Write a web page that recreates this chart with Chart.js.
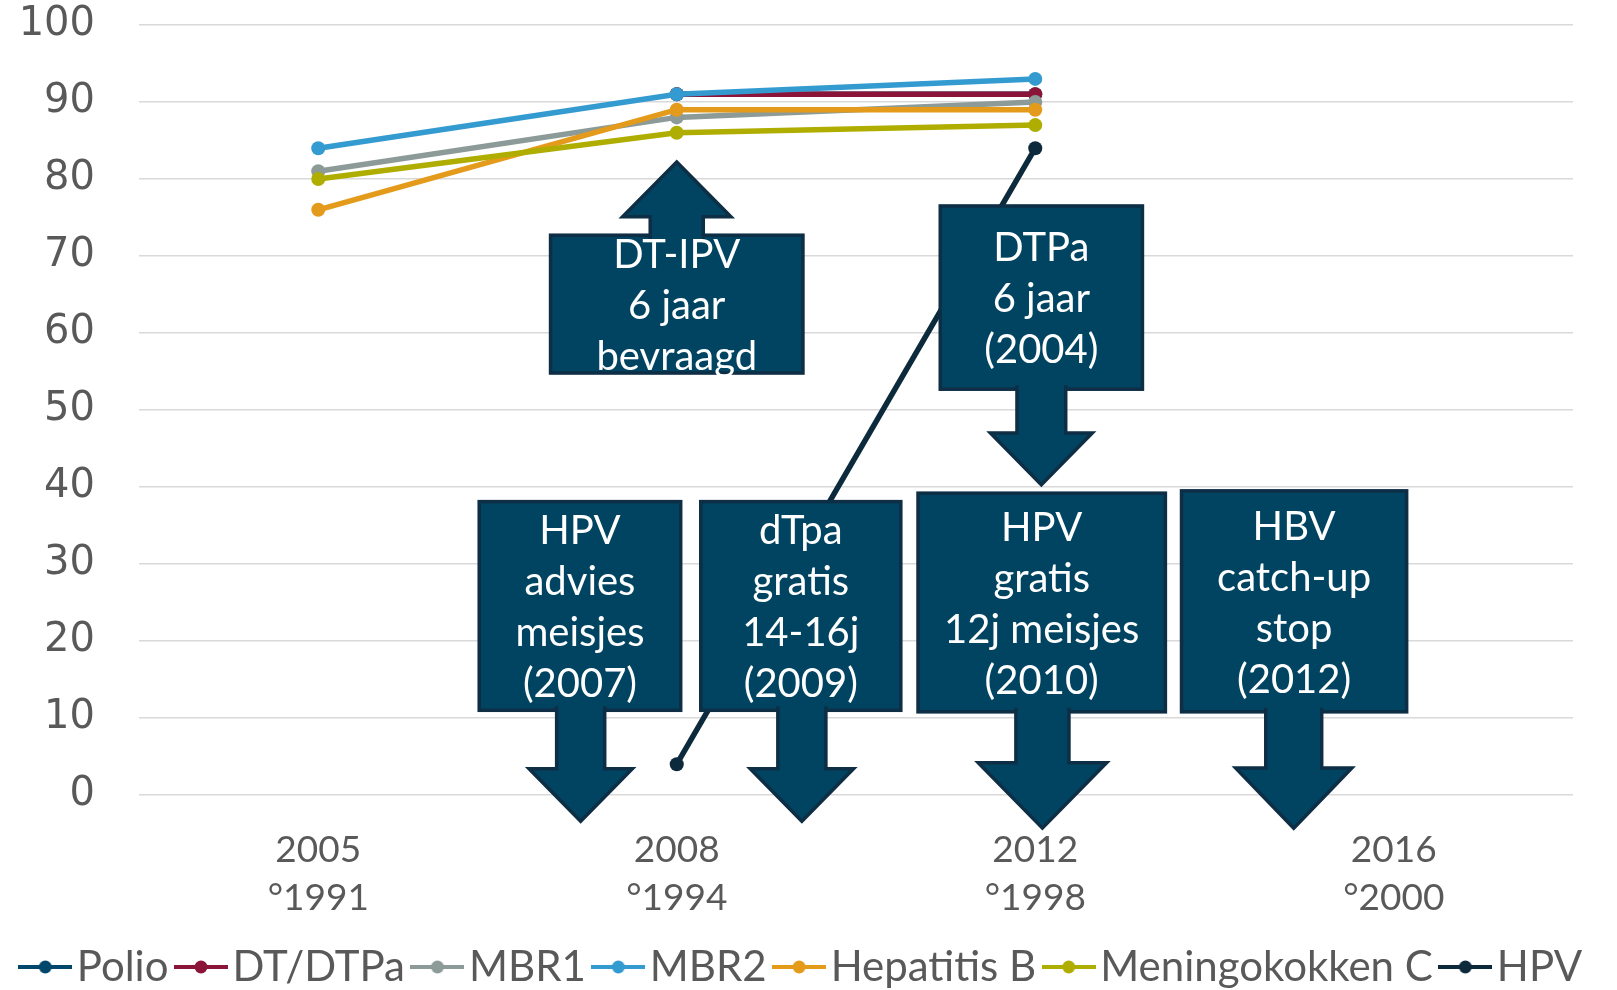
<!DOCTYPE html>
<html>
<head>
<meta charset="utf-8">
<script src="https://cdn.jsdelivr.net/npm/chart.js@4.4.0/dist/chart.umd.min.js"></script>
<style>
  body { margin: 0; background: #fff; }
</style>
</head>
<body>
<canvas id="vaccChart" width="1617" height="990"></canvas>
<script>
// categories: year of survey + birth cohort
const years = [['2005', '°1991'], ['2008', '°1994'], ['2012', '°1998'], ['2016', '°2000']];

// coverage (%)
const polio  = [null, 91, 91, null];
const dtDtpa = [null, 91, 91, null];
const mbr1   = [81, 88, 90, null];
const mbr2   = [84, 91, 93, null];
const hepB   = [76, 89, 89, null];
const menC   = [80, 86, 87, null];
const hpv    = [null, 4, 84, null];

const seriesNames = ['Polio', 'DT/DTPa', 'MBR1', 'MBR2', 'Hepatitis B', 'Meningokokken C', 'HPV'];
const seriesColors = ['#00476b', '#8a1538', '#8c9a98', '#349bd1', '#e49b1b', '#afae00', '#0c2a3c'];

// annotation arrows (x in category units, y in % units)
const notes = [
  { text: ['DT-IPV', '6 jaar', 'bevraagd'], x: 1.0, half: 0.352, top: 72.7, bottom: 54.8,
    dir: 'up', ax: 1.0, shaft: 0.074, head: 0.151, base: 75.1, tip: 82.2 },
  { text: ['DTPa', '6 jaar', '(2004)'], x: 2.017, half: 0.282, top: 76.5, bottom: 52.7,
    dir: 'down', ax: 2.017, shaft: 0.068, head: 0.142, base: 47.0, tip: 40.3 },
  { text: ['HPV', 'advies', 'meisjes', '(2007)'], x: 0.730, half: 0.281, top: 38.1, bottom: 11.0,
    dir: 'down', ax: 0.732, shaft: 0.067, head: 0.144, base: 3.4, tip: -3.4 },
  { text: ['dTpa', 'gratis', '14-16j', '(2009)'], x: 1.346, half: 0.279, top: 38.1, bottom: 11.0,
    dir: 'down', ax: 1.349, shaft: 0.067, head: 0.144, base: 3.4, tip: -3.4 },
  { text: ['HPV', 'gratis', '12j meisjes', '(2010)'], x: 2.018, half: 0.345, top: 39.2, bottom: 10.8,
    dir: 'down', ax: 2.02, shaft: 0.074, head: 0.179, base: 4.2, tip: -4.3 },
  { text: ['HBV', 'catch-up', 'stop', '(2012)'], x: 2.722, half: 0.314, top: 39.5, bottom: 10.8,
    dir: 'down', ax: 2.721, shaft: 0.078, head: 0.162, base: 3.5, tip: -4.3 }
];

const boxFill = '#004462';
const boxLine = '#0d2e45';

// legend marker: short line with a dot in the middle
const makeMarker = (color) => {
  const c = document.createElement('canvas');
  c.width = 54;
  c.height = 16;
  const g = c.getContext('2d');
  g.strokeStyle = color;
  g.lineWidth = 4;
  g.beginPath();
  g.moveTo(0, 8);
  g.lineTo(54, 8);
  g.stroke();
  g.fillStyle = color;
  g.beginPath();
  g.arc(27, 8, 6.5, 0, Math.PI * 2);
  g.fill();
  return c;
};
const markers = seriesColors.map(makeMarker);

const notesPlugin = {
  id: 'notes',
  afterDatasetsDraw(chart) {
    const ctx = chart.ctx;
    const xs = chart.scales.x;
    const ys = chart.scales.y;
    const unit = xs.getPixelForValue(1) - xs.getPixelForValue(0);
    ctx.save();
    ctx.lineJoin = 'miter';
    notes.forEach(n => {
      const cx = xs.getPixelForValue(n.x);
      const left = cx - n.half * unit;
      const right = cx + n.half * unit;
      const top = ys.getPixelForValue(n.top);
      const bottom = ys.getPixelForValue(n.bottom);

      ctx.fillStyle = boxFill;
      ctx.strokeStyle = boxLine;
      ctx.lineWidth = 3.5;
      ctx.fillRect(left, top, right - left, bottom - top);
      ctx.strokeRect(left, top, right - left, bottom - top);

      // arrow
      const ax = xs.getPixelForValue(n.ax);
      const sw = n.shaft * unit;
      const hw = n.head * unit;
      const base = ys.getPixelForValue(n.base);
      const tip = ys.getPixelForValue(n.tip);
      const start = n.dir === 'up' ? top + 4 : bottom - 4;
      ctx.beginPath();
      ctx.moveTo(ax - sw, start);
      ctx.lineTo(ax - sw, base);
      ctx.lineTo(ax - hw, base);
      ctx.lineTo(ax, tip);
      ctx.lineTo(ax + hw, base);
      ctx.lineTo(ax + sw, base);
      ctx.lineTo(ax + sw, start);
      ctx.fill();
      ctx.stroke();
      // cover the box border under the shaft
      ctx.fillRect(ax - sw + 2, start - 4, 2 * sw - 4, 9);

      // text
      ctx.fillStyle = '#ffffff';
      ctx.font = '40px Lato';
      ctx.textAlign = 'center';
      ctx.textBaseline = 'middle';
      const lh = 51;
      const mid = (top + bottom) / 2 + 2;
      n.text.forEach((t, i) => {
        ctx.fillText(t, cx, mid + (i - (n.text.length - 1) / 2) * lh);
      });
    });
    ctx.restore();
  }
};

const allValues = [polio, dtDtpa, mbr1, mbr2, hepB, menC, hpv];

const datasets = allValues.map((vals, i) => ({
  label: seriesNames[i],
  data: vals,
  borderColor: seriesColors[i],
  backgroundColor: seriesColors[i],
  pointBackgroundColor: seriesColors[i],
  pointBorderWidth: 0,
  pointRadius: 7,
  borderWidth: 5.5,
  tension: 0,
  order: 10 - i
}));

const ctx = document.getElementById('vaccChart');

new Chart(ctx, {
  type: 'line',
  data: {
    labels: years,
    datasets: datasets
  },
  options: {
    responsive: false,
    animation: false,
    layout: {
      autoPadding: false,
      padding: { left: 0, right: 0, top: 25, bottom: -8 }
    },
    scales: {
      x: {
        offset: true,
        grid: { display: false },
        border: { display: false },
        ticks: {
          color: '#595959',
          font: { family: 'Lato', size: 37, lineHeight: 1.3 },
          padding: 23,
          maxRotation: 0
        },
        afterFit: (s) => {
          s.height = 129;
          s.paddingLeft = 0;
          s.paddingRight = 0;
        }
      },
      y: {
        min: 0,
        max: 100,
        border: { display: false },
        grid: { color: '#d9d9d9', lineWidth: 1.5, drawTicks: false },
        ticks: {
          stepSize: 10,
          color: '#595959',
          font: { family: 'DejaVu Sans', size: 40 },
          padding: 44
        },
        afterFit: (s) => {
          s.width = 139;
          s.paddingTop = 0;
          s.paddingBottom = 0;
        }
      },
      yRight: {
        position: 'right',
        grid: { display: false },
        border: { display: false },
        ticks: { display: false },
        afterFit: (s) => {
          s.width = 44;
          s.paddingTop = 0;
          s.paddingBottom = 0;
        }
      }
    },
    plugins: {
      legend: {
        position: 'bottom',
        labels: {
          usePointStyle: true,
          pointStyleWidth: 21,
          padding: 22,
          color: '#595959',
          font: { family: 'Lato', size: 42 },
          sort: (a, b) => a.datasetIndex - b.datasetIndex,
          generateLabels: (chart) => {
            const items = Chart.defaults.plugins.legend.labels.generateLabels(chart);
            items.forEach(it => { it.pointStyle = markers[it.datasetIndex]; });
            return items;
          }
        }
      },
      tooltip: { enabled: false }
    }
  },
  plugins: [notesPlugin]
});
</script>
</body>
</html>
